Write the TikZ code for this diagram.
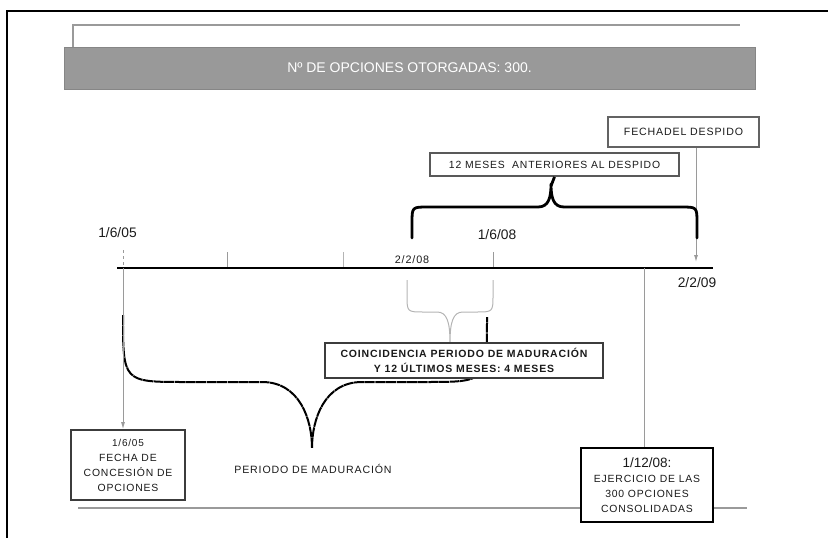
\documentclass[tikz,border=0pt]{standalone}
\usepackage{fontspec}
\setmainfont{Liberation Sans}
\newfontfamily\spaced[LetterSpace=8]{Liberation Sans}
\usetikzlibrary{arrows.meta}
\definecolor{txt}{HTML}{1A1A1A}
\definecolor{barfill}{HTML}{999999}
\definecolor{barline}{HTML}{868686}
\definecolor{lgray}{HTML}{9A9A9A}
\definecolor{vlgray}{HTML}{B4B4B4}
\definecolor{boxc}{HTML}{3C3C3C}
\tikzset{
  datelbl/.style={inner sep=0pt, text=txt, font=\fontsize{13.8}{15}\selectfont},
  datesm/.style={inner sep=0pt, text=txt, font=\spaced\fontsize{10.8}{12}\selectfont},
  boxn/.style={draw=boxc, line width=1.8pt, fill=white, inner sep=0pt, align=center, text=txt,
               font=\spaced\fontsize{10.4}{15}\selectfont},
  thinline/.style={draw=lgray, line width=0.9pt},
  garrow/.style={thinline, -{Latex[length=7pt,width=4pt]}},
}
\begin{document}
\begin{tikzpicture}[x=1pt,y=-1pt]
\useasboundingbox (0,0) rectangle (828,538);
% frame
\draw[line width=2pt] (7,538) -- (7,11) -- (830,11);
% top gray line and bar
\draw[lgray, line width=1.2pt] (73,47) -- (73,25) -- (740,25);
\node[draw=barline, line width=1pt, fill=barfill, minimum width=691, minimum height=42, inner sep=0pt,
      text=white, font=\fontsize{14}{16}\selectfont] (title) at (409.5,68) {Nº DE OPCIONES OTORGADAS: 300.};
% bottom gray line
\draw[lgray, line width=1.2pt] (78,508) -- (747,508);
% axis
\coordinate (axL) at (117,268);
\coordinate (axR) at (713,268);
\coordinate (t0) at (123,268);
\coordinate (t1) at (227,268);
\coordinate (t2) at (343,268);
\coordinate (t3) at (493,268);
\coordinate (ex) at (644,268);
\coordinate (fdEnd) at (696,262);
\draw[thinline, dashed] (123,250) -- (t0);
\draw[thinline] (227,252) -- (t1);
\draw[draw=vlgray, line width=0.9pt] (343,252) -- (t2);
\draw[thinline] (493,252) -- (t3);
\draw[line width=2.5pt] (axL) -- (axR);
% date labels
\node[datelbl] (d1) at (117.5,233) {1/6/05};
\node[datelbl] (d2) at (497,235) {1/6/08};
\node[datesm] (d3) at (412,260) {2/2/08};
\node[datelbl] (d4) at (697,283) {2/2/09};
% boxes
\node[boxn, draw=boxc!80, minimum width=151, minimum height=30, font=\spaced\fontsize{10.6}{12}\selectfont] (fd) at (683.5,132) {FECHADEL DESPIDO};
\node[boxn, draw=boxc!85, minimum width=249, minimum height=23, font=\spaced\fontsize{10.4}{12}\selectfont] (ms) at (554.5,164.5) {12 MESES\ \ ANTERIORES AL DESPIDO};
% connectors
\draw[garrow] (fdEnd |- fd.south) -- (fdEnd);
% braces
\draw[line width=2.8pt, line join=round, line cap=round]
  (412,238) -- (412,223) .. controls (412,207) .. (428,207) -- (538,207)
  .. controls (549,207) and (551,197) .. (551,184)
  .. controls (551,197) and (553,207) .. (564,207) -- (681,207)
  .. controls (697,207) .. (697,223) -- (697,238);
\draw[line width=2.8pt] (551,186) -- (ms.south);
\draw[line width=2pt, dash pattern=on 10pt off 0.6pt]
  (123,315) .. controls (123,382) .. (185,382) -- (262,382)
  .. controls (300,382) and (312,420) .. (312,448)
  .. controls (312,420) and (324,382) .. (362,382) -- (425,382)
  .. controls (487,382) .. (487,317);
\draw[draw=vlgray, line width=1pt]
  (407,280) -- (407,295) .. controls (407,312) .. (424,312) -- (437,312)
  .. controls (447,312) and (450,322) .. (450,343)
  .. controls (450,322) and (453,312) .. (463,312) -- (476,312)
  .. controls (493,312) .. (493,295) -- (493,280);
% lower boxes
\node[boxn, minimum width=278, minimum height=35, font=\spaced\bfseries\fontsize{10.5}{15}\selectfont] (co) at (464,360.5)
  {COINCIDENCIA PERIODO DE MADURACIÓN\\Y 12 ÚLTIMOS MESES: 4 MESES};
\node[boxn, minimum width=114, minimum height=70] (conc) at (128,465)
  {{\fontsize{10}{12}\selectfont 1/6/05}\\FECHA DE\\CONCESIÓN DE\\OPCIONES};
\node[boxn, draw=black, line width=2.2pt, minimum width=132, minimum height=74] (ej) at (647,485)
  {{\fontspec{Liberation Sans}\fontsize{13.5}{15}\selectfont 1/12/08:}\\EJERCICIO DE LAS\\300 OPCIONES\\CONSOLIDADAS};
\draw[garrow] (t0) -- (t0 |- conc.north);
\draw[thinline] (ex) -- (ex |- ej.north);
% label
\node[inner sep=0pt, text=txt, font=\spaced\fontsize{10.6}{12}\selectfont] (pm) at (313,469) {PERIODO DE MADURACIÓN};
\end{tikzpicture}
\end{document}
